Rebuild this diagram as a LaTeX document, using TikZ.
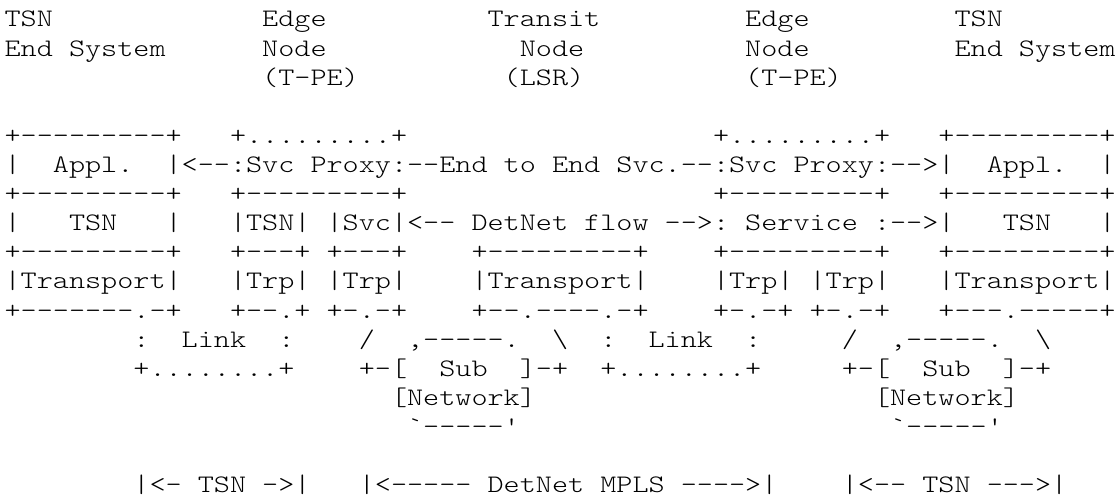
\documentclass[tikz,border=0pt]{standalone}
\usepackage{fontspec}
\setmonofont{lmmonolt10-regular.otf}[FakeStretch=1.217]
\newcommand\asc{\ttfamily\fontsize{25.2pt}{29.1pt}\selectfont\frenchspacing}
\newcommand\gap[1]{\setbox0\hbox{0}\hskip#1\wd0\relax}
\tikzset{asciiline/.style={anchor=base west, inner sep=0pt, outer sep=0pt, font=\asc, text=black}}
\begin{document}
\begin{tikzpicture}[x=1pt,y=1pt]
\fill[white] (0,0) rectangle (1120,-503);
\useasboundingbox (0,0) rectangle (1120,-503);
\def\xo{4.6}
\def\yo{27}
\def\pitch{29.1}
\node[asciiline] (l0) at (\xo,{-\yo-0*\pitch}) {TSN\gap{13}Edge\gap{10}Transit\gap{9}Edge\gap{9}TSN};
\node[asciiline] (l1) at (\xo,{-\yo-1*\pitch}) {End\gap{1}System\gap{6}Node\gap{12}Node\gap{10}Node\gap{9}End\gap{1}System};
\node[asciiline] (l2) at (\xo,{-\yo-2*\pitch}) {\gap{16}(T-PE)\gap{9}(LSR)\gap{10}(T-PE)};
\node[asciiline] (l4) at (\xo,{-\yo-4*\pitch}) {+---------+\gap{3}+.........+\gap{19}+.........+\gap{3}+---------+};
\node[asciiline] (l5) at (\xo,{-\yo-5*\pitch}) {|\gap{2}Appl.\gap{2}|<--:Svc\gap{1}Proxy:--End\gap{1}to\gap{1}End\gap{1}Svc.--:Svc\gap{1}Proxy:-->|\gap{2}Appl.\gap{2}|};
\node[asciiline] (l6) at (\xo,{-\yo-6*\pitch}) {+---------+\gap{3}+---------+\gap{19}+---------+\gap{3}+---------+};
\node[asciiline] (l7) at (\xo,{-\yo-7*\pitch}) {|\gap{3}TSN\gap{3}|\gap{3}|TSN|\gap{1}|Svc|<--\gap{1}DetNet\gap{1}flow\gap{1}-->:\gap{1}Service\gap{1}:-->|\gap{3}TSN\gap{3}|};
\node[asciiline] (l8) at (\xo,{-\yo-8*\pitch}) {+---------+\gap{3}+---+\gap{1}+---+\gap{4}+---------+\gap{4}+---------+\gap{3}+---------+};
\node[asciiline] (l9) at (\xo,{-\yo-9*\pitch}) {|Transport|\gap{3}|Trp|\gap{1}|Trp|\gap{4}|Transport|\gap{4}|Trp|\gap{1}|Trp|\gap{3}|Transport|};
\node[asciiline] (l10) at (\xo,{-\yo-10*\pitch}) {+-------.-+\gap{3}+--.+\gap{1}+-.-+\gap{4}+--.----.-+\gap{4}+-.-+\gap{1}+-.-+\gap{3}+---.-----+};
\node[asciiline] (l11) at (\xo,{-\yo-11*\pitch}) {\gap{8}:\gap{2}Link\gap{2}:\gap{4}/\gap{2},-----.\gap{2}\textbackslash\gap{2}:\gap{2}Link\gap{2}:\gap{5}/\gap{2},-----.\gap{2}\textbackslash};
\node[asciiline] (l12) at (\xo,{-\yo-12*\pitch}) {\gap{8}+........+\gap{4}+-[\gap{2}Sub\gap{2}]-+\gap{2}+........+\gap{5}+-[\gap{2}Sub\gap{2}]-+};
\node[asciiline] (l13) at (\xo,{-\yo-13*\pitch}) {\gap{24}[Network]\gap{21}[Network]};
\node[asciiline] (l14) at (\xo,{-\yo-14*\pitch}) {\gap{25}\symbol{96}-----\symbol{39}\gap{23}\symbol{96}-----\symbol{39}};
\node[asciiline] (l16) at (\xo,{-\yo-16*\pitch}) {\gap{8}|<-\gap{1}TSN\gap{1}->|\gap{3}|<-----\gap{1}DetNet\gap{1}MPLS\gap{1}---->|\gap{4}|<--\gap{1}TSN\gap{1}--->|};
\end{tikzpicture}
\end{document}
